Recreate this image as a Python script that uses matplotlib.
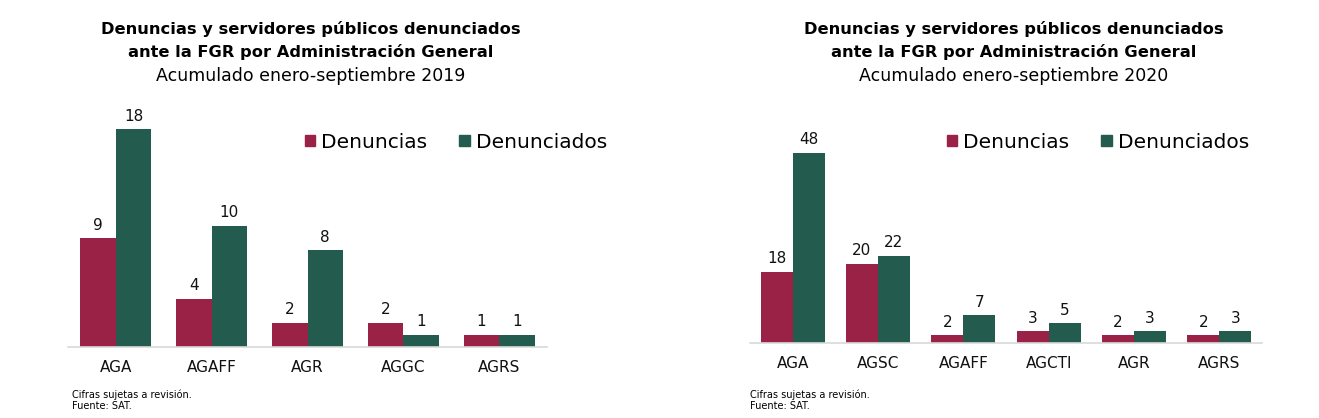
import matplotlib
matplotlib.use("Agg")
import matplotlib.pyplot as plt
from matplotlib.patches import Patch

# --- data ---
cats_2019 = ["AGA", "AGAFF", "AGR", "AGGC", "AGRS"]
denuncias_2019 = [9, 4, 2, 2, 1]
denunciados_2019 = [18, 10, 8, 1, 1]

cats_2020 = ["AGA", "AGSC", "AGAFF", "AGCTI", "AGR", "AGRS"]
denuncias_2020 = [18, 20, 2, 3, 2, 2]
denunciados_2020 = [48, 22, 7, 5, 3, 3]

series_names = ["Denuncias", "Denunciados"]
title_lines = ["Denuncias y servidores públicos denunciados",
               "ante la FGR por Administración General"]
subtitles = ["Acumulado enero-septiembre 2019", "Acumulado enero-septiembre 2020"]
notes = "Cifras sujetas a revisión.\nFuente: SAT."

MAROON = "#9B2247"
GREEN = "#235B4E"

plt.rcParams['font.family'] = ['DejaVu Sans']

W, H = 1319, 418
fig = plt.figure(figsize=(W / 100, H / 100), dpi=100)


def px(x, y):
    return x / W, 1 - y / H


def draw_panel(rect, cats, den, dna, ytop, bw):
    ax = fig.add_axes(rect)
    xs = list(range(len(cats)))
    b1 = ax.bar([x - bw / 2 for x in xs], den, width=bw, color=MAROON)
    b2 = ax.bar([x + bw / 2 for x in xs], dna, width=bw, color=GREEN)
    for bars in (b1, b2):
        for b in bars:
            ax.annotate(str(int(b.get_height())),
                        (b.get_x() + b.get_width() / 2, b.get_height()),
                        xytext=(0, 4), textcoords="offset points",
                        ha="center", va="bottom", fontsize=11, color="#111111")
    ax.set_xlim(-0.5, len(cats) - 0.5)
    ax.set_ylim(0, ytop)
    ax.set_xticks(xs)
    ax.set_xticklabels(cats, fontsize=11, color="#111111")
    ax.tick_params(axis="x", length=0, pad=9)
    ax.set_yticks([])
    for s in ("top", "right", "left"):
        ax.spines[s].set_visible(False)
    ax.spines["bottom"].set_color("#d9d9d9")
    ax.spines["bottom"].set_linewidth(1.2)
    ax.patch.set_alpha(0)
    return ax


# left panel (2019)
x0, y0 = px(68, 347)
x1, y1 = px(547, 105)
draw_panel([x0, y0, x1 - x0, y1 - y0], cats_2019, denuncias_2019, denunciados_2019,
           20.0, 0.37)

# right panel (2020)
x0, y0 = px(750, 343)
x1, y1 = px(1262, 105)
draw_panel([x0, y0, x1 - x0, y1 - y0], cats_2020, denuncias_2020, denunciados_2020,
           60.1, 0.375)

handles = [Patch(color=MAROON), Patch(color=GREEN)]

for cx, lx, sub, nx in ((311, 305, subtitles[0], 72), (1014, 947, subtitles[1], 750)):
    fig.text(*px(cx, 29), title_lines[0], ha="center", va="center",
             fontsize=11.7, fontweight="bold")
    fig.text(*px(cx, 52), title_lines[1], ha="center", va="center",
             fontsize=11.7, fontweight="bold")
    fig.text(*px(cx, 76), sub, ha="center", va="center", fontsize=12.5)
    fig.text(*px(nx, 400), notes, ha="left", va="center", fontsize=7,
             linespacing=1.15)
    fig.legend(handles, series_names, loc="center left",
               bbox_to_anchor=px(lx, 142), ncol=2, frameon=False,
               fontsize=14.5, handlelength=0.5, handleheight=0.5,
               handletextpad=0.3, columnspacing=1.6, borderpad=0,
               borderaxespad=0)

fig.savefig("out.png", dpi=100, facecolor="white")
